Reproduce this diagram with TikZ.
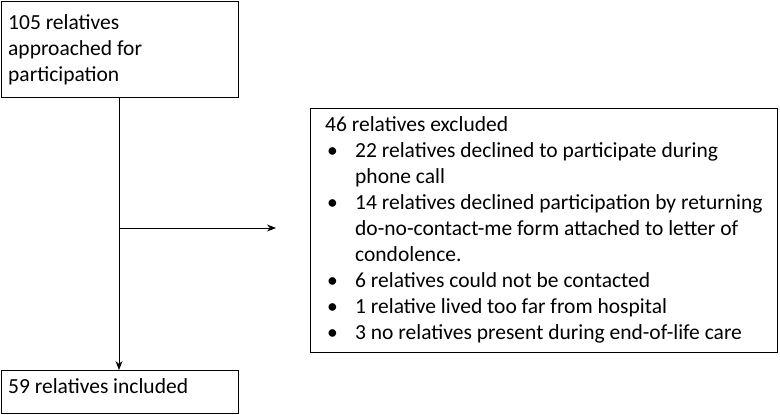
\documentclass[tikz,border=0pt]{standalone}
\usepackage{fontspec}
\setmainfont{Carlito}
\usetikzlibrary{arrows.meta}
\begin{document}
\begin{tikzpicture}[x=1pt,y=-1pt,
  box/.style={draw,line width=0.9pt,inner sep=0pt},
  txt/.style={anchor=north west,inner sep=0pt,align=left,font=\fontsize{21.5}{26}\selectfont},
  arr/.style={line width=0.9pt,-{Stealth[length=9pt,width=7pt]}}]
\useasboundingbox (0,0) rectangle (780,415);
\node[box,minimum width=237pt,minimum height=96pt,anchor=north west] (top) at (1,1) {};
\node[txt] at (8,14) {105 relatives\\approached for\\participation};
\node[box,minimum width=237pt,minimum height=43pt,anchor=north west] (bot) at (1,370) {};
\node[txt] at (8,378) {59 relatives included};
\node[box,minimum width=467pt,minimum height=244pt,anchor=north west] (ex) at (310,108) {};
\newcommand{\bl}{\makebox[30pt][l]{\hspace{2pt}•}}
\newcommand{\ind}{\hspace*{30pt}}
\node[txt] at (325,116) {46 relatives excluded\\
\bl 22 relatives declined to participate during\\
\ind phone call\\
\bl 14 relatives declined participation by returning\\
\ind do-no-contact-me form attached to letter of\\
\ind condolence.\\
\bl 6 relatives could not be contacted\\
\bl 1 relative lived too far from hospital\\
\bl 3 no relatives present during end-of-life care};
\coordinate (j) at (119,228);
\coordinate (e) at (276,228);
\draw[arr] (top.south -| j) -- (bot.north -| j);
\draw[arr] (j) -- (e);
\end{tikzpicture}
\end{document}
